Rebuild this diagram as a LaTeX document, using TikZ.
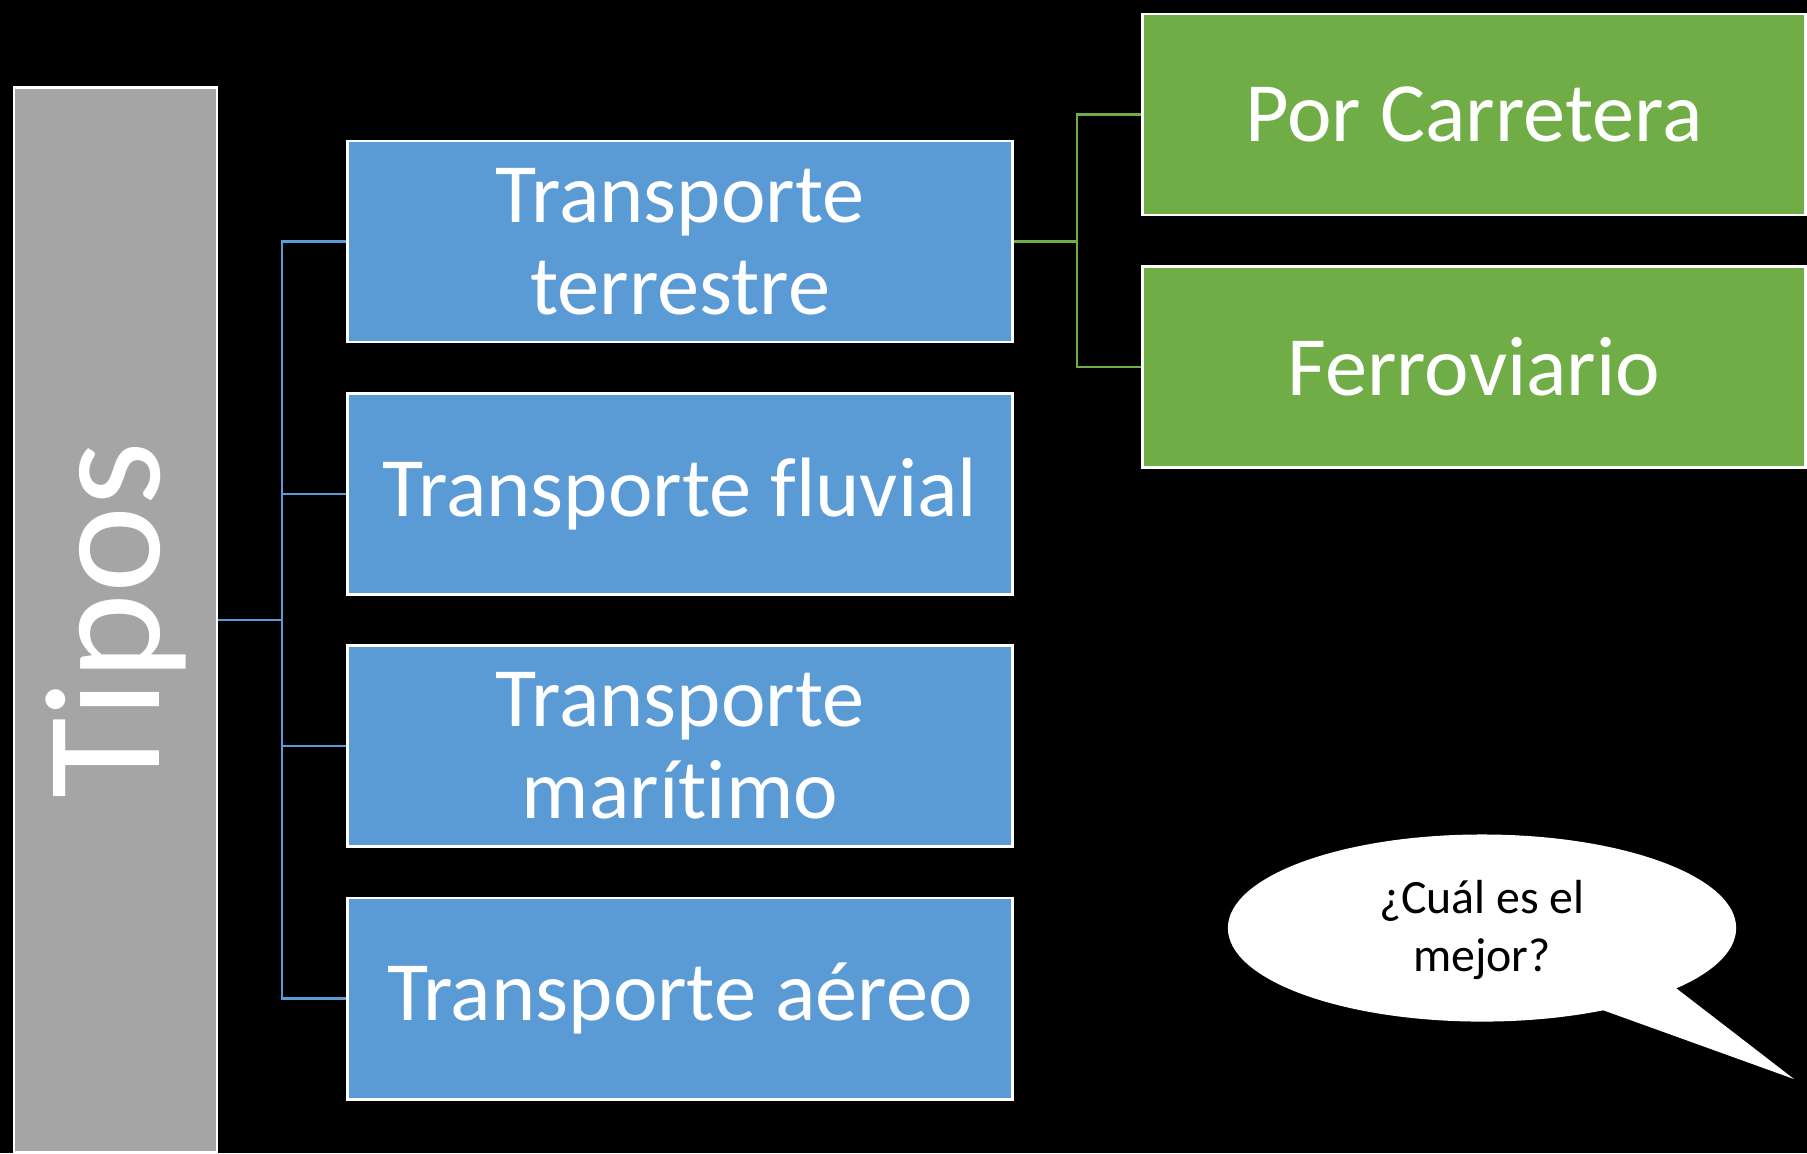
\documentclass[tikz,border=0pt]{standalone}
\usepackage{fontspec}
\usepackage{graphicx}
\usepackage{tikz}
\setmainfont{Carlito}[Ligatures=NoCommon]
\definecolor{cajaazul}{HTML}{5B9BD5}
\definecolor{cajaverde}{HTML}{70AD47}
\definecolor{cajagris}{HTML}{A5A5A5}

\begin{document}
\begin{tikzpicture}[x=0.01cm,y=-0.01cm,
		caja/.style={draw=white, line width=0.8pt, text=white, align=center,
			minimum width=6.64cm, minimum height=2.01cm, inner sep=0pt,
			font=\fontsize{24}{26.2}\selectfont},
		azul/.style={caja, fill=cajaazul},
		verde/.style={caja, fill=cajaverde, minimum width=6.62cm},
		linkazul/.style={draw=cajaazul, line width=0.7pt},
		linkverde/.style={draw=cajaverde, line width=0.7pt}]
		\fill[black] (0,0) rectangle (1807,1153);
		\useasboundingbox (0,0) rectangle (1807,1153);
		% tipos
		\node[draw=white, line width=0.8pt, fill=cajagris, text=white, inner sep=0pt,
			minimum width=2.03cm, minimum height=10.64cm,
			font=\fontsize{47}{56}\selectfont] (tipos) at (115.5,620) {\rotatebox{90}{Tipos}};
		\node[azul] (terrestre) at (680,241.5) {Transporte\\terrestre};
		\node[azul] (fluvial) at (680,494) {Transporte fluvial};
		\node[azul] (maritimo) at (680,746) {Transporte\\marítimo};
		\node[azul] (aereo) at (680,998.5) {Transporte aéreo};
		\node[verde] (carretera) at (1474,114.5) {Por Carretera};
		\node[verde] (ferroviario) at (1474,367) {Ferroviario};
		% conectores
		\coordinate (bus) at (282,620);
		\draw[linkazul] (tipos.east) -- (bus);
		\foreach \n in {terrestre,fluvial,maritimo,aereo}
			\draw[linkazul] (bus) |- (\n.west);
		\coordinate (ramal) at (1077,241.5);
		\draw[linkverde] (terrestre.east) -- (ramal);
		\foreach \n in {carretera,ferroviario}
			\draw[linkverde] (ramal) |- (\n.west);
		% globo
		\fill[white] (1482,928) ellipse (2.54cm and 0.935cm);
		\fill[white] (1597,1008) -- (1794,1079) -- (1672,985) -- cycle;
		\node[align=center, text=black, font=\fontsize{13.6}{16.5}\selectfont] (pregunta) at (1482,930) {¿Cuál es el\\mejor?};
	\end{tikzpicture}
\end{document}
